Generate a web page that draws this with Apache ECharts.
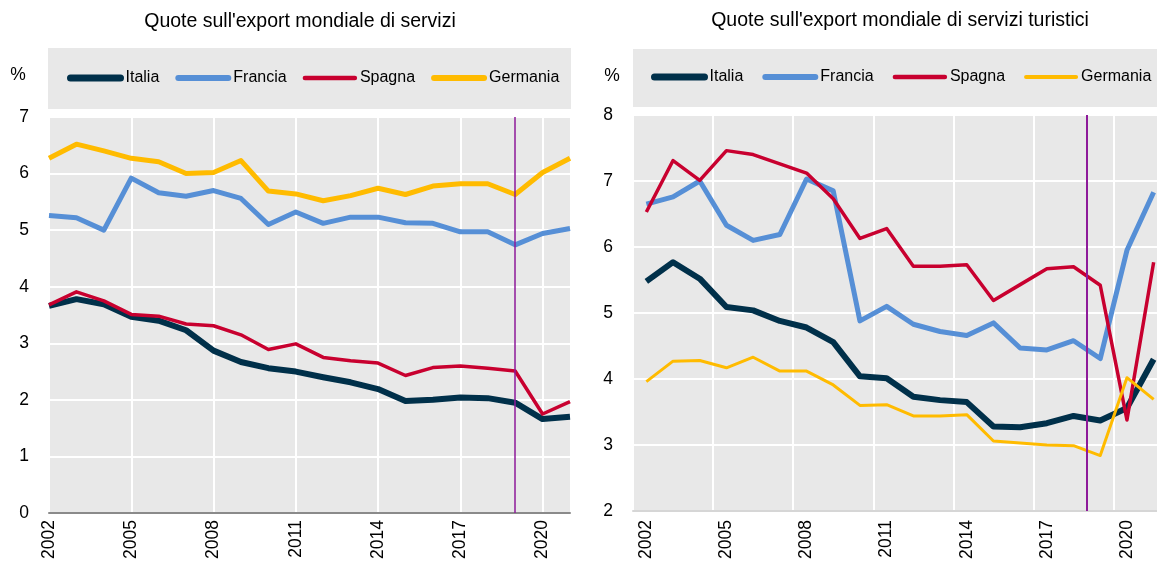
<!DOCTYPE html>
<html><head><meta charset="utf-8">
<script src="https://cdn.jsdelivr.net/npm/echarts@6/dist/echarts.min.js"></script>
<style>html,body{margin:0;padding:0;background:#fff}#c{width:1157px;height:563px}</style>
</head><body><div id="c"></div>
<script>
const years = ['2002','2003','2004','2005','2006','2007','2008','2009','2010','2011','2012','2013','2014','2015','2016','2017','2018','2019','2020','2021'];
const seriesNames = ['Italia','Francia','Spagna','Germania'];
const titleLeft = "Quote sull'export mondiale di servizi";
const titleRight = "Quote sull'export mondiale di servizi turistici";
const unitLabel = '%';

// Left panel: shares of world services exports (%)
const itaServ = [3.66,3.78,3.69,3.47,3.40,3.23,2.87,2.67,2.56,2.50,2.40,2.31,2.19,1.98,2.00,2.04,2.03,1.95,1.66,1.70];
const fraServ = [5.26,5.22,5.00,5.92,5.66,5.60,5.70,5.56,5.10,5.32,5.12,5.23,5.23,5.13,5.12,4.97,4.97,4.74,4.94,5.03];
const spaServ = [3.68,3.91,3.75,3.51,3.48,3.34,3.31,3.15,2.89,2.99,2.75,2.69,2.65,2.43,2.57,2.60,2.56,2.51,1.75,1.97];
const gerServ = [6.27,6.52,6.40,6.27,6.21,6.00,6.02,6.23,5.69,5.64,5.52,5.61,5.74,5.63,5.78,5.82,5.82,5.63,6.02,6.27];

// Right panel: shares of world tourism services exports (%)
const itaTur = [5.48,5.77,5.52,5.09,5.04,4.88,4.78,4.56,4.04,4.01,3.73,3.68,3.65,3.28,3.27,3.33,3.44,3.37,3.56,4.30];
const fraTur = [6.65,6.76,7.00,6.33,6.10,6.19,7.03,6.85,4.88,5.10,4.83,4.72,4.66,4.85,4.47,4.44,4.58,4.31,5.95,6.83];
const spaTur = [6.53,7.31,7.01,7.46,7.40,7.26,7.12,6.73,6.13,6.28,5.71,5.71,5.73,5.19,5.43,5.67,5.70,5.42,3.38,5.77];
const gerTur = [3.96,4.27,4.28,4.17,4.33,4.12,4.12,3.91,3.60,3.61,3.44,3.44,3.46,3.06,3.03,3.00,2.99,2.84,4.02,3.69];

const markerLeft = '2019';
const markerRight = 2018.5;
const yTicksLeft = [0, 7];
const yTicksRight = [2, 8];

const FONT = "'Liberation Sans',Arial,sans-serif";
const colors = {Italia:'#00304a', Francia:'#568fd6', Spagna:'#c8002f', Germania:'#ffbb00'};
const widthsL = {Italia:6, Francia:5, Spagna:3.5, Germania:5};
const widthsR = {Italia:6, Francia:5, Spagna:3.5, Germania:3};
const purple = '#8e1a9a';
const bg = '#e8e8e8';

function mkSeries(name, data, xi, yi, widths) {
  return {
    name, type:'line', data, xAxisIndex:xi, yAxisIndex:yi,
    symbol:'none', silent:true,
    lineStyle:{color:colors[name], width:widths[name], join:'round'},
    itemStyle:{color:colors[name]}
  };
}

const leftData = {Italia:itaServ, Francia:fraServ, Spagna:spaServ, Germania:gerServ};
const rightData = {Italia:itaTur, Francia:fraTur, Spagna:spaTur, Germania:gerTur};

const series = [];
seriesNames.forEach(n => series.push(mkSeries(n, leftData[n], 0, 0, widthsL)));
seriesNames.forEach(n => series.push(mkSeries(n, rightData[n], 1, 1, widthsR)));
series[0].markLine = {silent:true, symbol:'none', label:{show:false},
  lineStyle:{color:purple, width:1.5, type:'solid'}, data:[{xAxis:markerLeft}]};
series.push({type:'line', data:[], xAxisIndex:2, yAxisIndex:1, silent:true,
  markLine:{silent:true, symbol:'none', label:{show:false},
  lineStyle:{color:purple, width:2, type:'solid'}, data:[{xAxis:markerRight}]}});

function legendFor(left, top, widths, gap) {
  return {
    left, top, padding:0, itemGap:gap, itemWidth:50, itemHeight:14, z:10,
    selectedMode:false,
    textStyle:{fontFamily:FONT, fontSize:16, color:'#000'},
    itemStyle:{opacity:0},
    lineStyle:{cap:'round'},
    data: seriesNames.map(n => ({name:n, itemStyle:{opacity:0},
      lineStyle:{width:widths[n]+1, cap:'round', color:colors[n]}}))
  };
}

const axisLabelStyle = {fontFamily:FONT, fontSize:17.5, color:'#000'};

const option = {
  animation:false,
  backgroundColor:'#fff',
  grid:[
    {left:49, top:117, width:521, height:396, show:true, backgroundColor:bg, borderWidth:0, outerBoundsMode:'none', containLabel:false},
    {left:633, top:115, width:534, height:396, show:true, backgroundColor:bg, borderWidth:0, outerBoundsMode:'none', containLabel:false}
  ],
  xAxis:[
    {type:'category', gridIndex:0, data:years, boundaryGap:false,
     axisLine:{lineStyle:{color:'#8a8a8a', width:2}}, axisTick:{show:false},
     axisLabel:Object.assign({interval:2, rotate:90, margin:7}, axisLabelStyle),
     splitLine:{show:true, interval:2, lineStyle:{color:'#fff', width:2}}},
    {type:'category', gridIndex:1, data:years, boundaryGap:true,
     axisLine:{lineStyle:{color:'#d6d6d6', width:2}}, axisTick:{show:false, interval:2},
     axisLabel:Object.assign({interval:2, rotate:90, margin:9}, axisLabelStyle),
     splitLine:{show:true, interval:2, lineStyle:{color:'#fff', width:2}}},
    {type:'value', gridIndex:1, show:false,
     min:Number(years[0]) - 0.5, max:Number(years[years.length-1]) + 0.5,
     splitLine:{show:false}}
  ],
  yAxis:[
    {type:'value', gridIndex:0, min:yTicksLeft[0], max:yTicksLeft[1], interval:1,
     axisLine:{show:false}, axisTick:{show:false},
     axisLabel:Object.assign({margin:20}, axisLabelStyle),
     splitLine:{lineStyle:{color:'#fff', width:2}}},
    {type:'value', gridIndex:1, min:yTicksRight[0], max:yTicksRight[1], interval:1,
     axisLine:{show:false}, axisTick:{show:false},
     axisLabel:Object.assign({margin:20}, axisLabelStyle),
     splitLine:{lineStyle:{color:'#fff', width:2}}}
  ],
  legend:[legendFor(67, 70, widthsL, 16), legendFor(651, 69, widthsR, 19)],
  graphic:[
    {type:'rect', z:0, shape:{x:48, y:48, width:523, height:61}, style:{fill:bg}, silent:true},
    {type:'rect', z:0, shape:{x:633, y:49, width:524, height:58}, style:{fill:bg}, silent:true},
    {type:'text', z:5, style:{text:titleLeft, x:300, y:22, align:'center', verticalAlign:'middle', font:'19.5px ' + FONT, fill:'#000'}},
    {type:'text', z:5, style:{text:titleRight, x:900, y:21, align:'center', verticalAlign:'middle', font:'19.5px ' + FONT, fill:'#000'}},
    {type:'text', z:5, style:{text:unitLabel, x:18, y:75, align:'center', verticalAlign:'middle', font:'17.5px ' + FONT, fill:'#000'}},
    {type:'text', z:5, style:{text:unitLabel, x:612, y:76, align:'center', verticalAlign:'middle', font:'17.5px ' + FONT, fill:'#000'}}
  ],
  series
};
const chart = echarts.init(document.getElementById('c'), null, {renderer:'canvas'});
chart.setOption(option);
</script></body></html>
